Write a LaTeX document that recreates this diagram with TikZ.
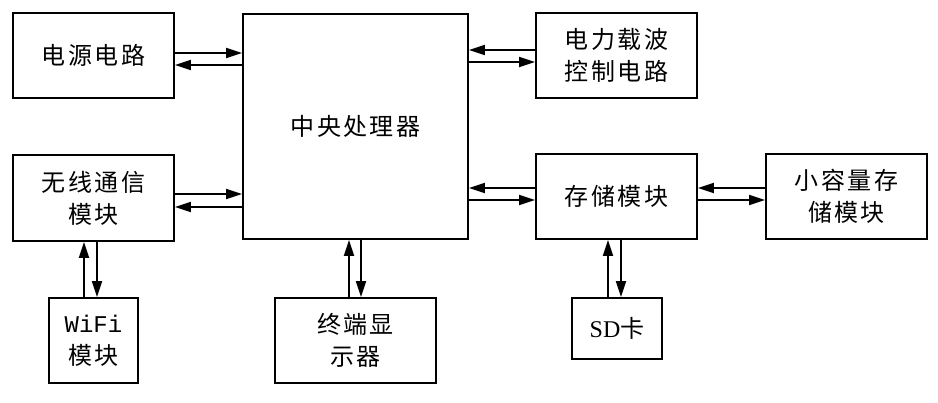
\documentclass[tikz,border=0pt]{standalone}
\usepackage{fontspec}
\setmainfont{Noto Sans CJK SC}[LetterSpace=10]
\newfontfamily\monof{Liberation Mono}
\newfontfamily\serf{Liberation Serif}
\usetikzlibrary{arrows.meta,calc}
\begin{document}
\begin{tikzpicture}[x=1pt,y=-1pt,
  blk/.style={draw,line width=1.8pt,inner sep=0pt,align=center,
    font=\fontsize{24}{32}\selectfont},
  arr/.style={line width=1.8pt,-{Triangle[length=16pt,width=10pt]}}]
\useasboundingbox (0,0) rectangle (938,403);
\node[blk,minimum width=161,minimum height=85] (pwr) at (93.5,55.5) {电源电路};
\node[blk,minimum width=225,minimum height=225] (cpu) at (355.5,126.5) {中央处理器};
\node[blk,minimum width=161,minimum height=85] (car) at (616.5,55.5) {电力载波\\控制电路};
\node[blk,minimum width=161,minimum height=86] (wl) at (93.5,198) {无线通信\\模块};
\node[blk,minimum width=161,minimum height=85] (sto) at (616.5,196.5) {存储模块};
\node[blk,minimum width=161,minimum height=85] (sml) at (846.5,196.5) {小容量存\\储模块};
\node[blk,minimum width=89,minimum height=85] (wifi) at (93.5,340.5) {{\monof WiFi}\\模块};
\node[blk,minimum width=161,minimum height=85] (term) at (355.5,340.5) {终端显\\示器};
\node[blk,minimum width=90,minimum height=61] (sd) at (617,328.5) {{\serf SD}卡};
% power <-> cpu
\draw[arr] ($(pwr.east)+(0,-2.5)$) -- ($(pwr.east -| cpu.west)+(0,-2.5)$);
\draw[arr] ($(pwr.east -| cpu.west)+(0,9.5)$) -- ($(pwr.east)+(0,9.5)$);
% wireless <-> cpu
\draw[arr] ($(wl.east)+(0,-4)$) -- ($(wl.east -| cpu.west)+(0,-4)$);
\draw[arr] ($(wl.east -| cpu.west)+(0,9)$) -- ($(wl.east)+(0,9)$);
% carrier <-> cpu
\draw[arr] ($(car.west)+(0,-5.5)$) -- ($(car.west -| cpu.east)+(0,-5.5)$);
\draw[arr] ($(car.west -| cpu.east)+(0,6.5)$) -- ($(car.west)+(0,6.5)$);
% storage <-> cpu
\draw[arr] ($(sto.west)+(0,-8.5)$) -- ($(sto.west -| cpu.east)+(0,-8.5)$);
\draw[arr] ($(sto.west -| cpu.east)+(0,3.5)$) -- ($(sto.west)+(0,3.5)$);
% small <-> storage
\draw[arr] ($(sml.west)+(0,-8.5)$) -- ($(sto.east)+(0,-8.5)$);
\draw[arr] ($(sto.east)+(0,3.5)$) -- ($(sml.west)+(0,3.5)$);
% wifi <-> wireless
\draw[arr] ($(wifi.north)+(-9.5,0)$) -- ($(wifi.north |- wl.south)+(-9.5,0)$);
\draw[arr] ($(wifi.north |- wl.south)+(3.5,0)$) -- ($(wifi.north)+(3.5,0)$);
% terminal <-> cpu
\draw[arr] ($(term.north)+(-6.5,0)$) -- ($(term.north |- cpu.south)+(-6.5,0)$);
\draw[arr] ($(term.north |- cpu.south)+(5.5,0)$) -- ($(term.north)+(5.5,0)$);
% sd <-> storage
\draw[arr] ($(sd.north)+(-9,0)$) -- ($(sd.north |- sto.south)+(-9,0)$);
\draw[arr] ($(sd.north |- sto.south)+(4,0)$) -- ($(sd.north)+(4,0)$);
\end{tikzpicture}
\end{document}
